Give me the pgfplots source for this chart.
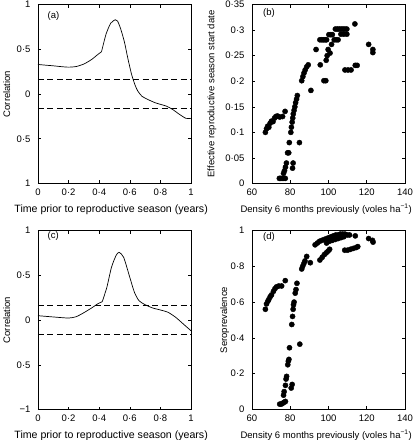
\documentclass[border=0pt]{standalone}
\usepackage{fontspec}
\setmainfont{Liberation Sans}
\usepackage{pgfplots}
\pgfplotsset{compat=1.18}
\pgfplotsset{
  myax/.style={
    scale only axis, width=153pt, height=179pt,
    font=\fontsize{9.5}{11}\selectfont,
    tick align=inside, tick pos=both,
    major tick length=3pt,
    axis line style={line width=0.6pt},
    every tick/.style={black, line width=0.5pt},
    /pgf/number format/assume math mode=true,
    yticklabel style={xshift=-4pt},
    xticklabel style={yshift=-2pt},
  },
  corr/.style={
    xmin=0, xmax=1, ymin=-1, ymax=1,
    xtick={0,0.2,0.4,0.6,0.8,1},
    xticklabels={0,0·2,0·4,0·6,0·8,1},
    ytick={-1,-0.5,0,0.5,1},
    xlabel={Time prior to reproductive season (years)},
    xlabel style={at={(axis description cs:0.478,-0.145)}, anchor=center, font=\fontsize{10.6}{12}\selectfont},
    ylabel={Correlation},
    ylabel style={at={(axis description cs:-0.205,0.5)}, anchor=center},
  },
  dens/.style={
    xmin=60, xmax=140,
    xtick={60,80,100,120,140},
    xticklabels={60,80,100,120,140},
    xlabel={Density 6 months previously (voles ha\textsuperscript{−1})},
    xlabel style={at={(axis description cs:0.485,-0.145)}, anchor=center},
  },
  dots/.style={only marks, mark=*, mark size=2.6pt, draw=black, fill=black},
  curve/.style={black, line width=0.7pt, smooth, tension=0.4},
  dash/.style={black, line width=0.6pt, dash pattern=on 6pt off 3.5pt},
}
\begin{document}
\begin{tikzpicture}
\useasboundingbox (0,0) rectangle (413pt,440pt);
% (a)
\begin{axis}[myax, corr, at={(38pt,256.5pt)}, anchor=south west,
  yticklabels={1,0·5,0,0·5,1}]
\addplot[dash] coordinates {(0,0.165)(1,0.165)};
\addplot[dash] coordinates {(0,-0.165)(1,-0.165)};
\addplot[curve] coordinates {(0,0.33)(0.05,0.322)(0.1,0.315)(0.15,0.306)(0.2,0.300)(0.25,0.307)(0.3,0.335)(0.35,0.385)(0.39,0.44)(0.415,0.472)};
\addplot[curve] coordinates {(0.415,0.472)(0.445,0.67)(0.475,0.79)(0.505,0.83)(0.52,0.815)(0.54,0.73)(0.565,0.58)(0.587,0.40)(0.61,0.23)(0.63,0.12)(0.65,0.04)(0.68,-0.026)(0.72,-0.063)(0.77,-0.10)(0.84,-0.136)(0.88,-0.173)(0.925,-0.228)(0.967,-0.272)(1.0,-0.272)};
\node[anchor=west] at (axis description cs:0.04,0.935) {(a)};
\end{axis}
% (b)
\begin{axis}[myax, dens, at={(252pt,256.5pt)}, anchor=south west,
  ymin=0, ymax=0.35,
  ytick={0,0.05,0.1,0.15,0.2,0.25,0.3,0.35},
  yticklabels={0,0·05,0·1,0·15,0·2,0·25,0·3,0·35},
  ylabel={Effective reproductive season start date},
  ylabel style={at={(axis description cs:-0.262,0.5)}, anchor=center}]
\addplot[dots] coordinates {
(67,0.100)(67.6,0.107)(68.2,0.112)(68.8,0.110)(69.5,0.118)(70.2,0.122)(71,0.121)(71.8,0.128)(72.5,0.131)(73.3,0.132)(74.5,0.130)(76,0.131)(77.3,0.141)
(74.3,0.010)(75,0.010)(75.8,0.010)(76.6,0.010)(77.4,0.010)(76.5,0.020)(77,0.025)(77.5,0.032)(78,0.040)(78.6,0.060)(79.2,0.060)(79.5,0.080)
(80.3,0.100)(80.6,0.110)(81,0.120)(81.3,0.128)(81.6,0.136)(82,0.143)(82.4,0.150)(82.8,0.158)(83.3,0.165)(83.7,0.172)(81.2,0.030)(81.5,0.040)(84.8,0.080)
(86,0.201)(86.6,0.209)(87.2,0.216)(87.8,0.222)(88.6,0.228)(89.4,0.232)(90.8,0.182)(93.5,0.262)
(95.5,0.281)(96.5,0.281)(97.3,0.281)(98.2,0.281)(99,0.281)(95.7,0.232)(97.6,0.201)(98.6,0.201)(98.8,0.241)(99.3,0.250)(99.8,0.262)
(100.2,0.291)(101.2,0.291)(102,0.291)(101.6,0.272)(100.8,0.255)(103,0.281)(104,0.281)(105,0.281)
(103.6,0.302)(104.6,0.302)(105.6,0.302)(106.6,0.302)(107.6,0.302)(108.6,0.302)(109.6,0.302)(106.5,0.292)(108,0.292)(109.6,0.292)
(108.6,0.222)(110.2,0.222)(111.8,0.222)(114,0.231)(115,0.231)(113.8,0.312)(121,0.272)(123.2,0.262)(123.2,0.256)};
\node[anchor=west] at (axis description cs:0.05,0.955) {(b)};
\end{axis}
% (c)
\begin{axis}[myax, corr, at={(38pt,30.5pt)}, anchor=south west,
  yticklabels={−1,0·5,0,0·5,1}]
\addplot[dash] coordinates {(0,0.165)(1,0.165)};
\addplot[dash] coordinates {(0,-0.165)(1,-0.165)};
\addplot[curve] coordinates {(0,0.048)(0.1,0.034)(0.2,0.022)(0.25,0.037)(0.3,0.082)(0.35,0.134)(0.39,0.18)(0.42,0.205)};
\addplot[curve] coordinates {(0.42,0.205)(0.45,0.365)(0.48,0.588)(0.51,0.72)(0.53,0.756)(0.56,0.70)(0.6,0.477)(0.63,0.31)(0.66,0.216)(0.7,0.171)(0.75,0.134)(0.8,0.112)(0.85,0.086)(0.9,0.03)(0.95,-0.045)(1.0,-0.12)};
\node[anchor=west] at (axis description cs:0.04,0.97) {(c)};
\end{axis}
% (d)
\begin{axis}[myax, dens, at={(252pt,30.5pt)}, anchor=south west,
  ymin=0, ymax=1,
  ytick={0,0.2,0.4,0.6,0.8,1},
  yticklabels={0,0·2,0·4,0·6,0·8,1},
  ylabel={Seroprevalence},
  ylabel style={at={(axis description cs:-0.178,0.5)}, anchor=center}]
\addplot[dots] coordinates {
(67,0.56)(67.6,0.59)(68.3,0.605)(68.8,0.615)(69.5,0.63)(70.2,0.64)(71.2,0.66)(72,0.675)(72.8,0.685)(74,0.69)(75.5,0.69)(77.4,0.72)
(74.5,0.03)(75.3,0.03)(76,0.035)(76.8,0.04)(77.5,0.045)(76.5,0.08)(76.8,0.10)(77.5,0.135)(77.8,0.17)(78.1,0.185)(78.7,0.25)(79,0.27)(79.3,0.28)(79.6,0.345)
(80.5,0.12)(81,0.14)(80.8,0.475)(81.2,0.52)(81.5,0.56)(81.7,0.585)(82,0.60)(82.6,0.65)(83,0.67)(83.5,0.705)(85,0.365)
(86,0.785)(86.5,0.80)(87.1,0.815)(87.7,0.83)(88.6,0.855)(90.5,0.82)
(93,0.92)(94.2,0.93)(95.4,0.94)(96.6,0.945)(97.8,0.95)(99,0.955)(100.2,0.96)(101.4,0.965)(102.6,0.97)(103.8,0.975)(105,0.975)(106.2,0.98)(107.4,0.98)(108.6,0.98)(109.8,0.975)(111,0.975)
(99,0.93)(100.5,0.94)(102,0.945)(103.5,0.95)(105,0.955)(106.5,0.96)(108,0.965)
(95.5,0.835)(96.7,0.85)(97.8,0.865)(98.8,0.875)(99.8,0.885)(100.6,0.895)
(108.5,0.89)(110,0.89)(111.5,0.895)(113,0.90)(114.5,0.905)(115.3,0.91)
(114,0.97)(121,0.955)(123,0.945)(123.3,0.935)};
\node[anchor=west] at (axis description cs:0.05,0.965) {(d)};
\end{axis}
\end{tikzpicture}
\end{document}
